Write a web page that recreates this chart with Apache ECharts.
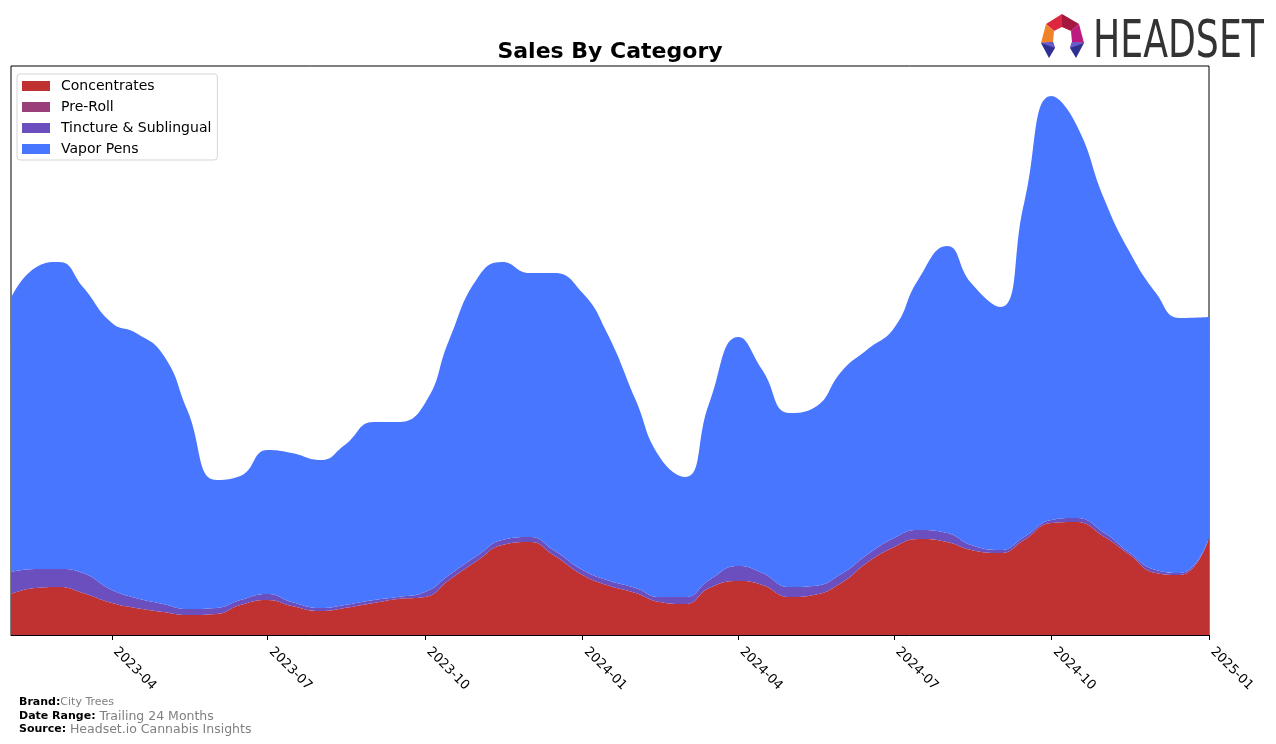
<!DOCTYPE html>
<html>
<head>
<meta charset="utf-8">
<script src="https://cdn.jsdelivr.net/npm/echarts@6/dist/echarts.min.js"></script>
<style>
html,body{margin:0;padding:0;background:#fff;}
#chart{width:1276px;height:744px;}
</style>
</head>
<body>
<div id="chart"></div>
<script>
// Semi-monthly sample dates
const dates = [
'2023-02-01','2023-02-15','2023-03-01','2023-03-15','2023-04-01','2023-04-15','2023-05-01','2023-05-15',
'2023-06-01','2023-06-15','2023-07-01','2023-07-15','2023-08-01','2023-08-15','2023-09-01','2023-09-15',
'2023-10-01','2023-10-15','2023-11-01','2023-11-15','2023-12-01','2023-12-15','2024-01-01','2024-01-15',
'2024-02-01','2024-02-15','2024-03-01','2024-03-15','2024-04-01','2024-04-15','2024-05-01','2024-05-15',
'2024-06-01','2024-06-15','2024-07-01','2024-07-15','2024-08-01','2024-08-15','2024-09-01','2024-09-15',
'2024-10-01','2024-10-15','2024-11-01','2024-11-15','2024-12-01','2024-12-15','2025-01-01'];

const concentrates = [41,47,48,42,32,27,23,20,21,30,35,29,24,27,32,36,38,55,75,90,93,80,60,50,42,33,31,47,54,50,38,40,53,72,88,96,93,85,82,95,112,113,98,81,62,60,97];
const preRoll = [0,0,0,0,0,0,0,0,0,0,0,0,0,0,0,0,0,0,0,0,0,0,0,0,0,0,0,0,0,0,0,0,0,0,0,0,0,0,0,0,0,0,0,0,0,0,0];
const tincture = [22,19,18,20,13,10,8,6,6,5,6,4,3,3,3,2,5,5,5,5,5,5,5,5,5,5,7,8,15,12,10,9,9,8,9,9,9,5,3,3,3,4,4,2,3,2,0];
const vaporPens = [274,301,307,286,267,265,249,199,128,124,144,149,148,160,178,175,189,235,278,278,264,277,277,248,188,140,120,177,229,203,174,178,203,205,210,250,287,262,243,334,424,395,333,302,277,255,221];

const tickDates = ['2023-04-01','2023-07-01','2023-10-01','2024-01-01','2024-04-01','2024-07-01','2024-10-01','2025-01-01'];

const seriesNames = ['Concentrates','Pre-Roll','Tincture & Sublingual','Vapor Pens'];
const seriesColors = ['#C03232','#99407A','#6B4FBF','#4876FF'];
const seriesValues = [concentrates, preRoll, tincture, vaporPens];

function ts(s){ const p = s.split('-').map(Number); return Date.UTC(p[0], p[1]-1, p[2]); }

const chart = echarts.init(document.getElementById('chart'), null, {renderer:'canvas'});

// data as [value, time] so the stacked dimension is the value (y)
const series = seriesNames.map((name, i) => ({
  name: name,
  type: 'line',
  stack: 'total',
  smooth: 0.5,
  showSymbol: false,
  symbol: 'none',
  encode: {x: 1, y: 0},
  lineStyle: {width: 0},
  areaStyle: {color: seriesColors[i], opacity: 1},
  itemStyle: {color: seriesColors[i]},
  data: dates.map((d, j) => [seriesValues[i][j], ts(d)])
}));

const option = {
  animation: false,
  backgroundColor: '#fff',
  title: {
    text: 'Sales By Category',
    left: 605, top: 36, textAlign: 'center',
    textStyle: {fontFamily: 'DejaVu Sans', fontSize: 22, fontWeight: 'bold', color: '#000'}
  },
  legend: {
    orient: 'vertical',
    left: 17, top: 74,
    itemWidth: 28, itemHeight: 10, itemGap: 7,
    padding: [5, 6, 4, 5],
    backgroundColor: '#fff',
    borderColor: '#d5d5d5', borderWidth: 1, borderRadius: 3,
    icon: 'rect',
    textStyle: {fontFamily: 'DejaVu Sans', fontSize: 14, color: '#000', padding: [0,0,0,6]},
    data: seriesNames
  },
  grid: {
    left: 11, right: 67, top: 66, bottom: 109,
    show: true, borderColor: '#000', borderWidth: 1, backgroundColor: 'transparent',
    containLabel: false
  },
  xAxis: {
    type: 'value',
    min: ts('2023-02-01'), max: ts('2025-01-01'),
    axisLine: {show: true, onZero: false, lineStyle: {color: '#000', width: 1}},
    axisTick: {show: true, length: 5, lineStyle: {color: '#000'}, customValues: tickDates.map(ts)},
    axisLabel: {
      customValues: tickDates.map(ts),
      rotate: -45,
      fontFamily: 'DejaVu Sans', fontSize: 13, color: '#000', margin: 11,
      padding: [0,0,0,5],
      formatter: function(v){ const d = new Date(v); return d.getUTCFullYear() + '-' + String(d.getUTCMonth()+1).padStart(2,'0'); }
    },
    splitLine: {show: false}
  },
  yAxis: {
    type: 'value', min: 0, max: 569,
    show: false,
    splitLine: {show: false}
  },
  graphic: [
    // Logo icon
    {type:'polygon', shape:{points:[[1046,24],[1062,14],[1062,27],[1054,31]]}, style:{fill:'#DD2640'}},
    {type:'polygon', shape:{points:[[1062,14],[1079,24],[1071,31],[1062,27]]}, style:{fill:'#A4173F'}},
    {type:'polygon', shape:{points:[[1046,24],[1054,31],[1053,42],[1041,43]]}, style:{fill:'#F0822A'}},
    {type:'polygon', shape:{points:[[1079,24],[1084,43],[1072,42],[1071,31]]}, style:{fill:'#BC1A7E'}},
    {type:'polygon', shape:{points:[[1041,43],[1053,42],[1055,48],[1049,58]]}, style:{fill:'#2F3192'}},
    {type:'polygon', shape:{points:[[1084,43],[1072,42],[1070,48],[1076,58]]}, style:{fill:'#2F3192'}},
    {type:'polygon', shape:{points:[[1041,43],[1053,42],[1055,48]]}, style:{fill:'#6A5ACD'}},
    {type:'polygon', shape:{points:[[1084,43],[1072,42],[1070,48]]}, style:{fill:'#6A5ACD'}},
    {type:'text', x: 1093, y: 18, scaleX: 0.79, style:{text:'HEADSET', fill:'#333', font:'51px "Liberation Sans Narrow", "DejaVu Sans Condensed", sans-serif'}},
    // Footer
    {type:'text', left: 19, top: 697, style:{
      text: '{b|Brand:}{v|City Trees}',
      rich: {b:{fontFamily:'DejaVu Sans', fontSize:11, fontWeight:'bold', fill:'#000'}, v:{fontFamily:'DejaVu Sans', fontSize:11, fill:'#808080'}}
    }},
    {type:'text', left: 19, top: 710, style:{
      text: '{b|Date Range: }{v|Trailing 24 Months}',
      rich: {b:{fontFamily:'DejaVu Sans', fontSize:11, fontWeight:'bold', fill:'#000'}, v:{fontFamily:'DejaVu Sans', fontSize:12.5, fill:'#808080'}}
    }},
    {type:'text', left: 19, top: 723, style:{
      text: '{b|Source: }{v|Headset.io Cannabis Insights}',
      rich: {b:{fontFamily:'DejaVu Sans', fontSize:11, fontWeight:'bold', fill:'#000'}, v:{fontFamily:'DejaVu Sans', fontSize:12.5, fill:'#808080'}}
    }}
  ],
  series: series
};
chart.setOption(option);
</script>
</body>
</html>
